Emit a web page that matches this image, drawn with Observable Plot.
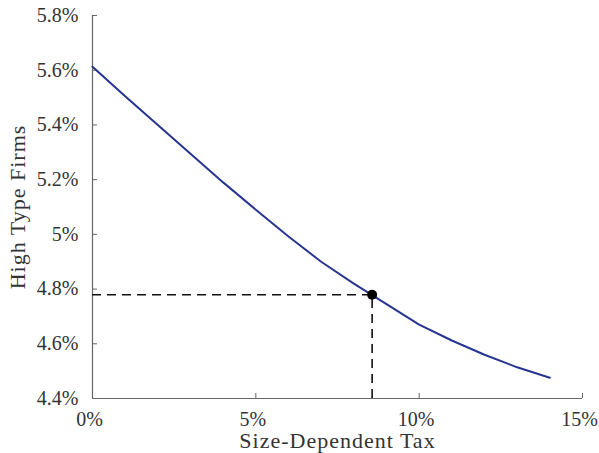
<!DOCTYPE html>
<html>
<head>
<meta charset="utf-8">
<script src="https://cdn.jsdelivr.net/npm/d3@7"></script>
<script src="https://cdn.jsdelivr.net/npm/@observablehq/plot@0.6"></script>
<style>
  html, body { margin: 0; padding: 0; background: #fff; }
  .axis-title text { letter-spacing: 1px; }
</style>
</head>
<body>
<div id="chart"></div>
<script>
// Size-dependent tax (fraction) and share of high type firms (fraction)
const taxRates = [0, 0.01, 0.02, 0.03, 0.04, 0.05, 0.06, 0.07, 0.08, 0.09, 0.10, 0.11, 0.12, 0.13, 0.14];
const highTypeShare = [0.05613, 0.05505, 0.05400, 0.05295, 0.05190, 0.05090, 0.04992, 0.04900, 0.04820, 0.04745, 0.04670, 0.04612, 0.04560, 0.04514, 0.04476];
const markerTax = [0.0856];
const markerShare = [0.04779];
const xTicks = [0, 0.05, 0.10, 0.15];
const yTicks = [0.044, 0.046, 0.048, 0.050, 0.052, 0.054, 0.056, 0.058];
const xDomain = [0, 0.15];
const yDomain = [0.044, 0.058];
const xTitle = ["Size-Dependent Tax"];
const yTitle = ["High Type Firms"];

const curve = taxRates.map((t, i) => ({tax: t, share: highTypeShare[i]}));
const marker = markerTax.map((t, i) => ({tax: t, share: markerShare[i]}));
const pct = d => (+(d * 100).toFixed(1)) + "%";

const font = "'Liberation Serif', 'DejaVu Serif', serif";
const axisColor = "#666";

const chart = Plot.plot({
  width: 599,
  height: 453,
  marginLeft: 92,
  marginRight: 17,
  marginTop: 15,
  marginBottom: 55,
  style: {fontFamily: font, fontSize: "20px", color: "#333", background: "#fff"},
  x: {domain: xDomain},
  y: {domain: yDomain},
  marks: [
    Plot.ruleX([xDomain[0]], {stroke: axisColor, strokeWidth: 1.2}),
    Plot.ruleY([yDomain[0]], {stroke: axisColor, strokeWidth: 1.2}),
    Plot.axisX({ticks: xTicks, tickSize: -5, stroke: axisColor, text: null, label: null}),
    Plot.axisX({ticks: xTicks, tickFormat: pct, tickSize: 0, tickPadding: 13, dx: -3, stroke: null,
      label: null, fill: "#333"}),
    Plot.axisY({ticks: yTicks, tickFormat: pct, tickSize: -5, tickPadding: 19, stroke: axisColor,
      label: null, fill: "#333"}),
    Plot.text(xTitle, {frameAnchor: "bottom", lineAnchor: "bottom", dy: 49, fontSize: 22, fill: "#333", className: "axis-title"}),
    Plot.text(yTitle, {frameAnchor: "left", textAnchor: "middle", lineAnchor: "top", rotate: -90, dx: -83, fontSize: 22, fill: "#333", className: "axis-title"}),
    Plot.ruleY(marker, {y: "share", x1: xDomain[0], x2: "tax", stroke: "#111", strokeWidth: 1.6, strokeDasharray: "9,6"}),
    Plot.ruleX(marker, {x: "tax", y1: yDomain[0], y2: "share", stroke: "#111", strokeWidth: 1.6, strokeDasharray: "9,6"}),
    Plot.line(curve, {x: "tax", y: "share", stroke: "#27358f", strokeWidth: 2}),
    Plot.dot(marker, {x: "tax", y: "share", r: 5, fill: "#000", stroke: "none"})
  ]
});
document.getElementById("chart").appendChild(chart);
</script>
</body>
</html>
